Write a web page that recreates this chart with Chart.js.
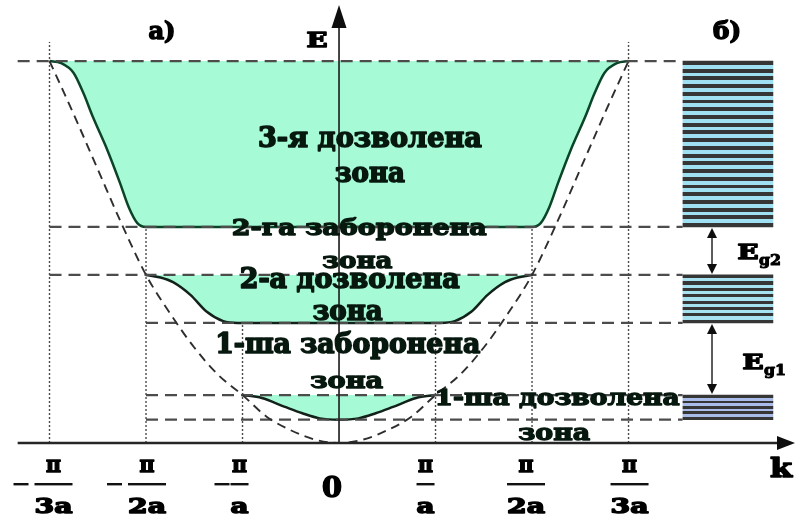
<!DOCTYPE html>
<html>
<head>
<meta charset="utf-8">
<script src="https://cdn.jsdelivr.net/npm/chart.js@4.4.1/dist/chart.umd.min.js"></script>
<style>
  html, body { margin: 0; padding: 0; background: #ffffff; }
  canvas { display: block; }
</style>
</head>
<body>
<canvas id="bands" width="795" height="519"></canvas>
<script>
// Wave vector k is measured in units of the first zone edge; energy E in arbitrary units.

// k-axis ticks and their fraction labels
const kTicks = [-3, -2, -1, 0, 1, 2, 3];
const tickSigns = ['−', '−', '−', '', '', '', ''];
const tickNumerators = ['π', 'π', 'π', '0', 'π', 'π', 'π'];
const tickDenominators = ['3a', '2a', 'a', '', 'a', '2a', '3a'];

// free-electron parabola (dashed)
const freeK = [-3, -2.75, -2.5, -2.25, -2, -1.75, -1.5, -1.25, -1, -0.75, -0.5, -0.25, 0,
               0.25, 0.5, 0.75, 1, 1.25, 1.5, 1.75, 2, 2.25, 2.5, 2.75, 3];
const freeE = [9, 7.75, 6.45, 5.15, 3.96, 3.05, 2.25, 1.6, 1.13, 0.62, 0.3, 0.08, 0,
               0.08, 0.3, 0.62, 1.13, 1.6, 2.25, 3.05, 3.96, 5.15, 6.45, 7.75, 9];

// 1st allowed band E(k)
const band1K = [-1, -0.8, -0.56, -0.38, -0.2, 0, 0.2, 0.38, 0.56, 0.8, 1];
const band1E = [1.13, 1.06, 0.85, 0.7, 0.58, 0.55, 0.58, 0.7, 0.85, 1.06, 1.13];

// 2nd allowed band E(k)
const band2K = [-2, -1.85, -1.72, -1.54, -1.37, -1.2, -1.05, 1.05, 1.2, 1.37, 1.54, 1.72, 1.85, 2];
const band2E = [3.96, 3.9, 3.79, 3.49, 3.09, 2.87, 2.83, 2.83, 2.87, 3.09, 3.49, 3.79, 3.9, 3.96];

// 3rd allowed band E(k)
const band3K = [-3, -2.88, -2.75, -2.65, -2.55, -2.4, -2.27, -2.18, -2.09, -2,
                2, 2.09, 2.18, 2.27, 2.4, 2.55, 2.65, 2.75, 2.88, 3];
const band3E = [9, 8.95, 8.72, 8.25, 7.68, 6.9, 6.13, 5.56, 5.18, 5.09,
                5.09, 5.18, 5.56, 6.13, 6.9, 7.68, 8.25, 8.72, 8.95, 9];

// band edges, bottom to top (1st, 2nd, 3rd band)
const bandBottoms = [0.55, 2.83, 5.09];
const bandTops = [1.13, 3.96, 9];
// number of discrete levels drawn in each band of the level diagram
const levelCounts = [5, 8, 22];

// ---------- layout ----------
const K_MIN = -3.513, K_MAX = 4.725, E_MIN = -1.791, E_MAX = 10.438;
const levelBoxK = 4.03;         // centre of the level diagram
const gapArrowK = 3.865;        // Eg arrows
const guideEndK = 3.56;         // where the dashed level lines stop
const guideStarts = { 9: -3.33, 5.09: -3, 3.96: -3, 2.83: -2, 1.13: -2, 0.55: -2 };
const edgeTops = { 3: 9.45, 2: 5.09, 1: 2.83 };

const INK = '#07180f';
const FONT = '"DejaVu Serif", "Liberation Serif", serif';
const FILL = 'rgb(166, 250, 214)';

const pts = (ks, es) => ks.map((k, i) => ({ x: k, y: es[i] }));

const datasets = [];

// level diagram (б): one floating bar per band, striped
const stripeColors = ['#a9bbe9', '#a6e2f0', '#9fe0f2'];
datasets.push({
  type: 'bar',
  data: bandBottoms.map((b, i) => ({ x: levelBoxK, y: [b, bandTops[i]] })),
  barThickness: 90,
  grouped: false,
  borderWidth: 0,
  order: 0,
  backgroundColor: (c) => {
    const chart = c.chart;
    if (!chart.chartArea || c.type !== 'data') return '#a6e2f0';
    const i = c.dataIndex;
    const ys = chart.scales.y;
    const top = ys.getPixelForValue(bandTops[i]);
    const bot = ys.getPixelForValue(bandBottoms[i]);
    const H = bot - top, N = levelCounts[i], r = 0.5;
    const p = H / (N - 1 + r), d = r * p;
    const g = chart.ctx.createLinearGradient(0, top, 0, bot);
    const dark = '#363636', light = stripeColors[i];
    for (let n = 0; n < N; n++) {
      const s = (n * p) / H, e = Math.min(1, (n * p + d) / H);
      g.addColorStop(s, dark);
      g.addColorStop(e, dark);
      if (n < N - 1) {
        g.addColorStop(e, light);
        g.addColorStop(((n + 1) * p) / H, light);
      }
    }
    return g;
  }
});

// dashed free-electron parabola
datasets.push({
  data: pts(freeK, freeE),
  borderColor: '#2e2e2e',
  borderWidth: 1.9,
  borderDash: [9, 6],
  cubicInterpolationMode: 'monotone',
  pointRadius: 0,
  fill: false,
  order: 1
});

// dotted zone-edge verticals
kTicks.filter(k => k !== 0).forEach(k => {
  datasets.push({
    data: [{ x: k, y: 0 }, { x: k, y: edgeTops[Math.abs(k)] }],
    borderColor: '#4a4a4a',
    borderWidth: 1.4,
    borderDash: [2, 2],
    pointRadius: 0,
    fill: false,
    order: 1
  });
});

// dashed horizontal lines at every band edge
[...bandTops, ...bandBottoms].forEach(e => {
  datasets.push({
    data: [{ x: guideStarts[e], y: e }, { x: guideEndK, y: e }],
    borderColor: '#4c4c4c',
    borderWidth: 2.3,
    borderDash: [12, 7],
    pointRadius: 0,
    fill: false,
    order: 2
  });
});

// allowed bands: curve filled up to the band top
[[band1K, band1E, 0, '#12221a'], [band2K, band2E, 1, '#12221a'], [band3K, band3E, 2, '#0b4528']]
  .forEach(([ks, es, i, col]) => {
    datasets.push({
      data: pts(ks, es),
      borderColor: col,
      borderWidth: 2.5,
      cubicInterpolationMode: 'monotone',
      pointRadius: 0,
      backgroundColor: FILL,
      fill: { value: bandTops[i] },
      order: 3
    });
  });

// zone captions (centre k, baseline E, width in px)
const zoneNotes = [
  { t: '3-я дозволена',   k: 0.32,  e: 6.97, w: 224 },
  { t: 'зона',            k: 0.32,  e: 6.15, w: 70 },
  { t: '2-га заборонена', k: 0.21,  e: 4.90, w: 255, sy: 0.85 },
  { t: 'зона',            k: 0.19,  e: 4.12, w: 70, sy: 0.85 },
  { t: '2-а дозволена',   k: 0.11,  e: 3.65, w: 220 },
  { t: 'зона',            k: 0.09,  e: 2.90, w: 70 },
  { t: '1-ша заборонена', k: 0.09,  e: 2.12, w: 265 },
  { t: 'зона',            k: 0.08,  e: 1.30, w: 73, sy: 0.85 },
  { t: '1-ша дозволена',  k: 2.26,  e: 0.895, w: 245, sy: 0.85 },
  { t: 'зона',            k: 2.23,  e: 0.07, w: 72, sy: 0.85 }
];

function fitText(ctx, text, cx, base, font, w, sy, color, weight) {
  ctx.save();
  ctx.font = font;
  const m = ctx.measureText(text).width;
  ctx.translate(cx, base);
  ctx.scale(w ? w / m : 1, sy || 1);
  ctx.textAlign = 'center';
  ctx.textBaseline = 'alphabetic';
  ctx.fillStyle = color;
  ctx.strokeStyle = color;
  ctx.lineJoin = 'round';
  ctx.lineWidth = weight || 1.5;
  ctx.fillText(text, 0, 0);
  ctx.strokeText(text, 0, 0);
  ctx.restore();
}

function arrowHead(ctx, x, y, dir, len, half) {
  ctx.beginPath();
  if (dir === 'up') { ctx.moveTo(x, y); ctx.lineTo(x - half, y + len); ctx.lineTo(x + half, y + len); }
  if (dir === 'down') { ctx.moveTo(x, y); ctx.lineTo(x - half, y - len); ctx.lineTo(x + half, y - len); }
  if (dir === 'right') { ctx.moveTo(x, y); ctx.lineTo(x - len, y - half); ctx.lineTo(x - len, y + half); }
  ctx.closePath();
  ctx.fill();
}

const diagramDecor = {
  id: 'diagramDecor',
  afterDatasetsDraw(chart) {
    const { ctx, scales: { x, y } } = chart;
    const x0 = x.getPixelForValue(0), y0 = y.getPixelForValue(0);
    ctx.save();
    ctx.strokeStyle = '#262626';
    ctx.fillStyle = '#0e0e0e';
    // k axis
    ctx.lineWidth = 2.4;
    ctx.beginPath();
    ctx.moveTo(x.getPixelForValue(-3.33), y0);
    ctx.lineTo(x.right - 12, y0);
    ctx.stroke();
    arrowHead(ctx, x.right, y0, 'right', 18, 7);
    // E axis
    ctx.lineWidth = 1.7;
    ctx.beginPath();
    ctx.moveTo(x0, y0);
    ctx.lineTo(x0, 22);
    ctx.stroke();
    arrowHead(ctx, x0, 5, 'up', 23, 7.5);
    // band gap arrows
    const ax = x.getPixelForValue(gapArrowK);
    ctx.lineWidth = 1.5;
    for (let i = 0; i < 2; i++) {
      const yt = y.getPixelForValue(bandBottoms[i + 1]);
      const yb = y.getPixelForValue(bandTops[i]);
      ctx.beginPath();
      ctx.moveTo(ax, yt + 8);
      ctx.lineTo(ax, yb - 8);
      ctx.stroke();
      arrowHead(ctx, ax, yt + 1, 'up', 10, 5);
      arrowHead(ctx, ax, yb - 1, 'down', 10, 5);
    }
    ctx.restore();
  },
  afterDraw(chart) {
    const { ctx, scales: { x, y } } = chart;
    zoneNotes.forEach(n => {
      fitText(ctx, n.t, x.getPixelForValue(n.k), y.getPixelForValue(n.e),
        'bold 27px ' + FONT, n.w, n.sy, INK, 1.6);
    });
    fitText(ctx, 'а)', 162, 39, 'bold 24px ' + FONT, 27, 1, '#000');
    fitText(ctx, 'б)', 727, 39, 'bold 24px ' + FONT, 28, 1, '#000');
    fitText(ctx, 'E', 317, 47, 'bold 21px ' + FONT, 21, 1, '#000');
    fitText(ctx, 'k', x.right - 14, 477, 'bold 26px ' + FONT, 22, 1, '#000');
    // band gap labels
    const ax = x.getPixelForValue(gapArrowK);
    ['g1', 'g2'].forEach((sub, i) => {
      const ym = (y.getPixelForValue(bandBottoms[i + 1]) + y.getPixelForValue(bandTops[i])) / 2;
      const ex = ax + 18 + (i === 0 ? 13 : 8);
      fitText(ctx, 'E', ex + 10, ym + (i === 0 ? 10 : 8), 'bold 20px ' + FONT, 21, 1, '#000');
      fitText(ctx, sub, ex + 32, ym + (i === 0 ? 16 : 14), 'bold 14px ' + FONT, 22, 1, '#000', 1);
    });
    // k tick labels as fractions
    const shift = [4, 1, -3, -7, -10, -6, 1];
    kTicks.forEach((k, i) => {
      const cx = x.getPixelForValue(k) + shift[i];
      if (!tickDenominators[i]) {
        fitText(ctx, tickNumerators[i], cx, 497, 'bold 28px ' + FONT, 20, 1, '#000');
        return;
      }
      const barW = tickDenominators[i].length > 1 ? 38 : 18;
      fitText(ctx, tickNumerators[i], cx, 472, 'bold 22px ' + FONT, 15, 1, '#000');
      fitText(ctx, tickDenominators[i], cx, 513, 'bold 21px ' + FONT, barW, 1, '#000');
      ctx.save();
      ctx.fillStyle = '#111';
      ctx.fillRect(cx - barW / 2, 483, barW, 2.4);
      if (tickSigns[i]) {
        const gap = barW > 20 ? 6 : 1;
        ctx.fillRect(cx - barW / 2 - gap - 15, 483, 15, 2.4);
      }
      ctx.restore();
    });
  }
};

new Chart(document.getElementById('bands'), {
  type: 'line',
  data: { datasets },
  options: {
    responsive: false,
    animation: false,
    devicePixelRatio: 1,
    layout: { padding: 0 },
    events: [],
    plugins: { legend: { display: false }, tooltip: { enabled: false } },
    scales: {
      x: { type: 'linear', min: K_MIN, max: K_MAX, display: false, offset: false, grid: { offset: false } },
      y: { type: 'linear', min: E_MIN, max: E_MAX, display: false }
    }
  },
  plugins: [diagramDecor]
});
</script>
</body>
</html>
